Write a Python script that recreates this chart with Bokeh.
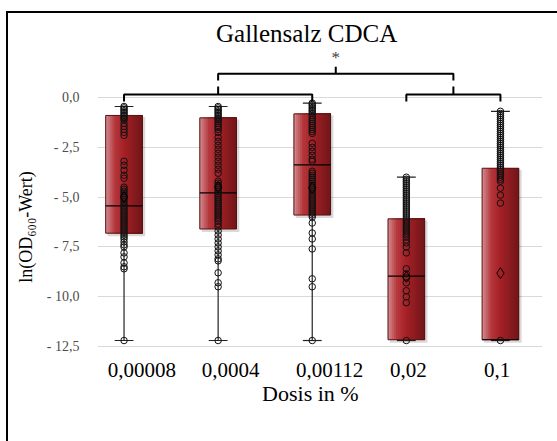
from bokeh.plotting import figure
from bokeh.models import FixedTicker
from bokeh.core.properties import value
from bokeh.embed import file_html
from bokeh.resources import INLINE

# ---------------- data ----------------
categories = ["0,00008", "0,0004", "0,00112", "0,02", "0,1"]
q1 = [-6.81, -6.60, -5.90, -12.16, -12.16]
median = [-5.44, -4.79, -3.38, -8.97, -12.16]
q3 = [-0.90, -1.02, -0.82, -6.09, -3.55]
whisker_low = [-12.2, -12.2, -12.2, -12.2, -12.2]
whisker_high = [-0.45, -0.45, -0.28, -4.00, -0.69]
mean = [-5.00, -4.50, -4.53, -9.00, -8.82]

points_1 = [-0.45, -0.52, -0.6, -0.67, -0.75, -0.82, -0.9, -0.97, -1.05, -1.12, -1.3, -1.45, -1.6,
            -1.75, -1.9, -3.2, -3.4, -3.65, -3.9, -4.05, -4.5, -4.6, -4.7, -4.8, -4.9, -5.0, -5.1,
            -5.2, -5.3, -5.4, -5.5, -5.6, -5.7, -5.8, -5.9, -6.0, -6.1, -6.2, -6.3, -6.4, -6.5,
            -6.6, -6.7, -6.8, -6.9, -7.0, -7.1, -7.25, -7.4, -7.5, -7.8, -8.0, -8.3, -8.5, -8.6, -12.2]
points_2 = [-0.45, -0.52, -0.6, -0.67, -0.75, -0.82, -0.9, -0.97, -1.05, -1.12, -1.2, -1.3, -1.4,
            -1.5, -1.6, -1.75, -2.0, -2.2, -2.4, -2.6, -2.8, -3.0, -3.2, -3.4, -3.6, -3.8, -4.2,
            -4.3, -4.4, -4.5, -4.6, -4.7, -4.8, -4.9, -5.0, -5.1, -5.2, -5.3, -5.4, -5.5, -5.6,
            -5.7, -5.8, -5.9, -6.0, -6.1, -6.2, -6.35, -6.5, -6.7, -6.9, -7.1, -7.3, -7.5, -7.7,
            -7.9, -8.1, -8.2, -8.8, -9.3, -9.5, -12.2]
points_3 = [-0.28, -0.35, -0.42, -0.5, -0.57, -0.65, -0.72, -0.8, -0.9, -1.0, -1.1, -1.2, -1.3,
            -1.4, -1.5, -1.6, -1.7, -1.8, -2.3, -2.5, -2.7, -2.9, -3.1, -3.2, -3.7, -3.8, -3.9,
            -4.0, -4.1, -4.2, -4.3, -4.4, -4.5, -4.6, -4.7, -4.8, -4.9, -5.0, -5.1, -5.2, -5.3,
            -5.4, -5.5, -5.6, -5.7, -5.8, -5.9, -6.0, -6.3, -6.8, -7.1, -7.6, -9.1, -9.5, -12.2]
points_4 = [-4.0, -4.1, -4.2, -4.3, -4.4, -4.5, -4.6, -4.7, -4.8, -4.9, -5.0, -5.1, -5.2, -5.3,
            -5.4, -5.5, -5.6, -5.7, -5.8, -5.9, -6.0, -6.1, -6.2, -6.3, -6.4, -6.5, -6.6, -6.7,
            -6.8, -6.9, -7.0, -7.15, -7.3, -7.5, -7.8, -8.6, -8.85, -9.05, -9.3, -9.7, -10.0,
            -10.3, -12.2]
points_5 = [-0.69, -0.8, -0.9, -1.0, -1.1, -1.2, -1.3, -1.4, -1.5, -1.6, -1.7, -1.8, -1.9, -2.0,
            -2.1, -2.2, -2.3, -2.4, -2.5, -2.6, -2.7, -2.8, -2.9, -3.0, -3.1, -3.2, -3.3, -3.4,
            -3.5, -3.6, -3.7, -3.8, -3.9, -4.0, -4.1, -4.2, -4.55, -4.9, -5.3, -12.2]
all_points = [points_1, points_2, points_3, points_4, points_5]

y_ticks = [0.0, -2.5, -5.0, -7.5, -10.0, -12.5]
y_tick_labels = ["0,0", "- 2,5", "- 5,0", "- 7,5", "- 10,0", "- 12,5"]

title_text = "Gallensalz CDCA"
x_title = "Dosis in %"
y_title = "ln(OD\u2086\u2080\u2080-Wert)"
significance = "*"

# ---------------- figure ----------------
SERIF = "Liberation Serif"
xpos = [i + 1 for i in range(len(categories))]
BOX_W = 0.39
CAP_W = 0.2

p = figure(width=557, height=441, output_backend="svg", toolbar_location=None,
           x_range=(0.718, 5.447), y_range=(-17.27, 4.27),
           min_border_left=97, min_border_right=15, min_border_top=12, min_border_bottom=0)
p.background_fill_color = "white"
p.border_fill_color = "white"
p.outline_line_color = None
p.xaxis.visible = False
p.xgrid.visible = False
p.ygrid.ticker = FixedTicker(ticks=y_ticks)
p.ygrid.grid_line_color = "#d9d9d9"
p.ygrid.grid_line_width = 1

ya = p.yaxis[0]
ya.ticker = FixedTicker(ticks=y_ticks)
ya.major_label_overrides = {t: l for t, l in zip(y_ticks, y_tick_labels)}
ya.axis_line_color = None
ya.major_tick_line_color = None
ya.minor_tick_line_color = None
ya.major_label_standoff = 12
ya.major_label_text_font = SERIF
ya.major_label_text_font_size = "14px"
ya.major_label_text_color = "#4d4d4d"
ya.axis_label = y_title
ya.axis_label_text_font = SERIF
ya.axis_label_text_font_size = "18px"
ya.axis_label_text_font_style = "normal"
ya.axis_label_text_color = "black"
ya.axis_label_standoff = 8

# whiskers
p.segment(x0=xpos, y0=whisker_low, x1=xpos, y1=whisker_high, line_color="#222222", line_width=1.2)
p.segment(x0=[x - CAP_W / 2 for x in xpos], y0=whisker_high,
          x1=[x + CAP_W / 2 for x in xpos], y1=whisker_high, line_color="#222222", line_width=1.2)
p.segment(x0=[x - CAP_W / 2 for x in xpos], y0=whisker_low,
          x1=[x + CAP_W / 2 for x in xpos], y1=whisker_low, line_color="#222222", line_width=1.2)

# box shadow
p.quad(left=[x - BOX_W / 2 + 0.02 for x in xpos], right=[x + BOX_W / 2 + 0.03 for x in xpos],
       top=[t - 0.08 for t in q3], bottom=[b - 0.15 for b in q1],
       fill_color="black", fill_alpha=0.15, line_color=None)

# gradient boxes (overlapping strips, left to right, so no seams appear)
stops = [(0.0, (210, 140, 145)), (0.25, (180, 55, 60)), (0.5, (165, 33, 38)), (1.0, (112, 22, 25))]


def grad(t):
    for (t0, c0), (t1, c1) in zip(stops[:-1], stops[1:]):
        if t <= t1:
            f = (t - t0) / (t1 - t0)
            return "#%02x%02x%02x" % tuple(int(round(a + (b - a) * f)) for a, b in zip(c0, c1))
    return "#%02x%02x%02x" % stops[-1][1]


N = 18
sl, sr, st, sb, sc = [], [], [], [], []
for i in range(N):
    for x, lo, hi in zip(xpos, q1, q3):
        sl.append(x - BOX_W / 2 + BOX_W * i / N)
        sr.append(x + BOX_W / 2)
        st.append(hi)
        sb.append(lo)
        sc.append(grad((i + 0.5) / N))
p.quad(left=sl, right=sr, top=st, bottom=sb, fill_color=sc, line_color=None)
p.quad(left=[x - BOX_W / 2 for x in xpos], right=[x + BOX_W / 2 for x in xpos],
       top=q3, bottom=q1, fill_color=None, line_color="#5a1212", line_width=1)

# median
p.segment(x0=[x - BOX_W / 2 for x in xpos], y0=median,
          x1=[x + BOX_W / 2 for x in xpos], y1=median, line_color="black", line_width=1.2)

# points
px_, py_ = [], []
for x, pts in zip(xpos, all_points):
    px_ += [x] * len(pts)
    py_ += pts
p.scatter(px_, py_, marker="circle", size=6.5, fill_color=None, line_color="#111111", line_width=1)

# mean
p.scatter(xpos, mean, marker="diamond", size=11, fill_color=None, line_color="black", line_width=1)

# significance brackets
lvl1 = 0.15
drop = 0.35
b1 = (xpos[0], xpos[2])
b2 = (xpos[3], xpos[4])
m1 = (b1[0] + b1[1]) / 2
m2 = (b2[0] + b2[1]) / 2
top_lvl = 1.2
for a, b in (b1, b2):
    p.line([a, a, b, b], [lvl1 - drop, lvl1, lvl1, lvl1 - drop], line_color="black", line_width=2)
    p.line([(a + b) / 2, (a + b) / 2], [lvl1, lvl1 + 0.4], line_color="black", line_width=2)
p.line([m1, m1, m2, m2], [top_lvl - drop, top_lvl, top_lvl, top_lvl - drop], line_color="black", line_width=2)
p.line([(m1 + m2) / 2, (m1 + m2) / 2], [top_lvl, top_lvl + 0.35], line_color="black", line_width=2)
p.text(x=[(m1 + m2) / 2], y=[2.0], text=[significance], text_font=value(SERIF),
       text_font_size="17px", text_color="#404040", text_align="center", text_baseline="middle")

# title
p.text(x=[2.94], y=[3.21], text=[title_text], text_font=value(SERIF), text_font_size="25px",
       text_color="black", text_align="center", text_baseline="middle")

# x tick labels and axis title
p.text(x=[x - BOX_W / 2 for x in xpos], y=[-13.7] * len(xpos), text=categories,
       text_font=value(SERIF), text_font_size="21px", text_color="black",
       text_align="left", text_baseline="middle", x_offset=2)
p.text(x=[2.98], y=[-14.86], text=[x_title], text_font=value(SERIF), text_font_size="22px",
       text_color="black", text_align="center", text_baseline="middle")

html = file_html(p, INLINE)
# chart-area edges: a vertical bar on the left and a horizontal bar on top,
# kept inside the window so no scrolling is triggered
edge_css = ("<style>"
            "html,body{overflow:hidden;}"
            "body::before{content:'';position:fixed;left:6px;top:11px;width:2px;height:430px;"
            "background:#000;pointer-events:none;z-index:10;}"
            "body::after{content:'';position:fixed;left:6px;top:11px;width:551px;height:2px;"
            "background:#000;pointer-events:none;z-index:10;}"
            "</style>")
html = html.replace("</head>", edge_css + "</head>", 1)
open("out.html", "w").write(html)
